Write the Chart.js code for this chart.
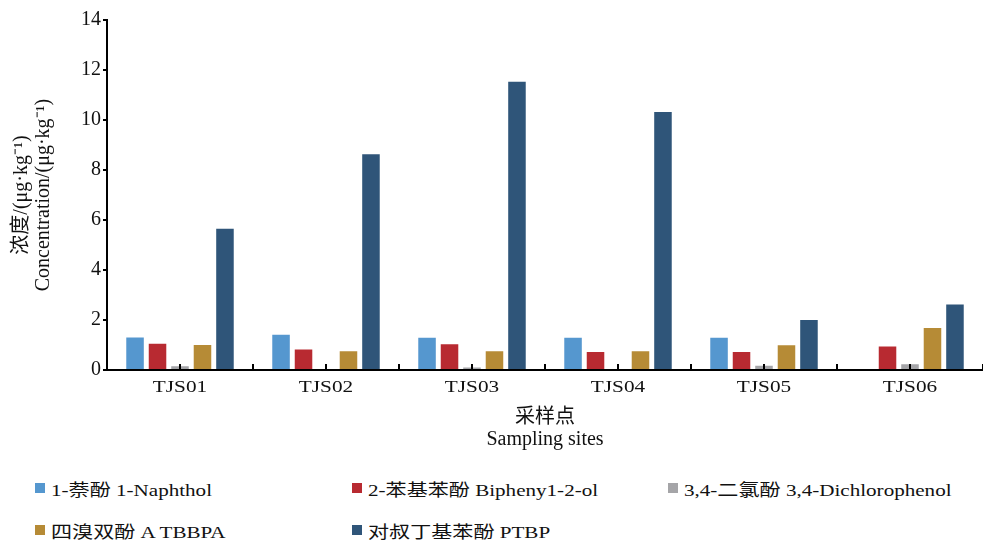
<!DOCTYPE html>
<html>
<head>
<meta charset="utf-8">
<script src="https://cdn.jsdelivr.net/npm/chart.js@4.4.0/dist/chart.umd.min.js"></script>
<style>
    html, body { margin: 0; padding: 0; background: #fff; }
    #wrap { position: relative; width: 983px; height: 543px; }
    #chartBox { position: absolute; left: 0; top: 0; width: 983px; height: 455px; }
    #legend { position: absolute; left: 35px; top: 470px; width: 948px;
        display: grid; grid-template-columns: 317px 316px 315px; grid-auto-rows: 42px;
        font-family: "Liberation Serif", "Noto Sans CJK SC", serif; font-size: 17px; color: #111; }
    .item { display: flex; align-items: center; height: 36px; white-space: nowrap; }
    .sw { width: 10px; height: 10px; margin-right: 6px; flex: none; }
    .txt { display: inline-block; transform: scaleX(1.24); transform-origin: left center; }
</style>
</head>
<body>
<div id="wrap">
    <div id="chartBox"><canvas id="c"></canvas></div>
    <div id="legend"></div>
</div>
<script>
const sites = ["TJS01", "TJS02", "TJS03", "TJS04", "TJS05", "TJS06"];
const seriesNames = [
    "1-萘酚 1-Naphthol",
    "2-苯基苯酚 Bipheny1-2-ol",
    "3,4-二氯酚 3,4-Dichlorophenol",
    "四溴双酚 A TBBPA",
    "对叔丁基苯酚 PTBP",
];
const naphthol = [1.30, 1.41, 1.29, 1.29, 1.29, 0];
const biphenylol = [1.05, 0.82, 1.03, 0.72, 0.72, 0.94];
const dichlorophenol = [0.15, 0, 0.10, 0, 0.17, 0.23];
const tbbpa = [1.00, 0.75, 0.75, 0.75, 0.99, 1.68];
const ptbp = [5.65, 8.63, 11.53, 10.32, 2.00, 2.62];
const colors = ["#5597CF", "#B82A31", "#A5A5A8", "#B68B36", "#2F5579"];
const yTicks = [0, 2, 4, 6, 8, 10, 12, 14];

const serif = '"Liberation Serif", "Noto Sans CJK SC", serif';

// small inward ticks on the x axis (centres + boundaries) and the wide site labels
const xAxisExtras = {
    id: "xAxisExtras",
    afterDatasetsDraw(chart) {
        const { ctx, chartArea } = chart;
        const x = chart.scales.x;
        const half = (x.getPixelForValue(1) - x.getPixelForValue(0)) / 2;
        ctx.save();
        ctx.strokeStyle = "#000";
        ctx.lineWidth = 2;
        sites.forEach((s, i) => {
            const c = x.getPixelForValue(i);
            [c, c + half].forEach((px) => {
                ctx.beginPath();
                ctx.moveTo(px, chartArea.bottom);
                ctx.lineTo(px, chartArea.bottom - 6);
                ctx.stroke();
            });
        });
        ctx.fillStyle = "#111";
        ctx.font = "17px " + serif;
        ctx.textAlign = "center";
        ctx.textBaseline = "middle";
        sites.forEach((s, i) => {
            ctx.save();
            ctx.translate(x.getPixelForValue(i), chartArea.bottom + 18);
            ctx.scale(1.25, 1);
            ctx.fillText(s, 0, 0);
            ctx.restore();
        });
        ctx.restore();
    },
};

const allData = [naphthol, biphenylol, dichlorophenol, tbbpa, ptbp];

const chart = new Chart(document.getElementById("c"), {
    type: "bar",
    data: {
        labels: sites,
        datasets: allData.map((d, i) => ({
            label: seriesNames[i],
            data: d,
            backgroundColor: colors[i],
            borderWidth: 0,
            barPercentage: 0.78,
            categoryPercentage: 0.77,
        })),
    },
    options: {
        responsive: true,
        maintainAspectRatio: false,
        animation: false,
        layout: { padding: { top: 20, right: 0, left: 0, bottom: 0 } },
        plugins: { legend: { display: false }, tooltip: { enabled: false } },
        scales: {
            x: {
                grid: { display: true, drawOnChartArea: false, drawTicks: false },
                border: { color: "#000", width: 2 },
                ticks: { display: false },
                title: {
                    display: true,
                    text: ["采样点", "Sampling sites"],
                    color: "#111",
                    font: { family: serif, size: 20, lineHeight: 1.1 },
                    padding: { top: 0, bottom: 4 },
                },
                afterFit: (axis) => { axis.height = 85; },
            },
            y: {
                min: 0,
                max: 14,
                afterBuildTicks: (axis) => { axis.ticks = yTicks.map((v) => ({ value: v })); },
                grid: { drawOnChartArea: false, tickLength: 4, color: "#000", lineWidth: 2 },
                border: { color: "#000", width: 2 },
                ticks: { color: "#111", padding: 2, font: { family: serif, size: 20 } },
                title: {
                    display: true,
                    text: ["浓度/(μg·kg⁻¹)", "Concentration/(μg·kg⁻¹)"],
                    color: "#111",
                    font: { family: serif, size: 20, lineHeight: 1.1 },
                    padding: { top: 11, bottom: 0 },
                },
                afterFit: (axis) => { axis.width = 107; },
            },
        },
    },
    plugins: [xAxisExtras],
});

// legend laid out as in the figure, built from the datasets
const legendEl = document.getElementById("legend");
chart.data.datasets.forEach((ds) => {
    const item = document.createElement("div");
    item.className = "item";
    const sw = document.createElement("span");
    sw.className = "sw";
    sw.style.background = ds.backgroundColor;
    const txt = document.createElement("span");
    txt.className = "txt";
    txt.textContent = ds.label;
    item.appendChild(sw);
    item.appendChild(txt);
    legendEl.appendChild(item);
});
</script>
</body>
</html>
